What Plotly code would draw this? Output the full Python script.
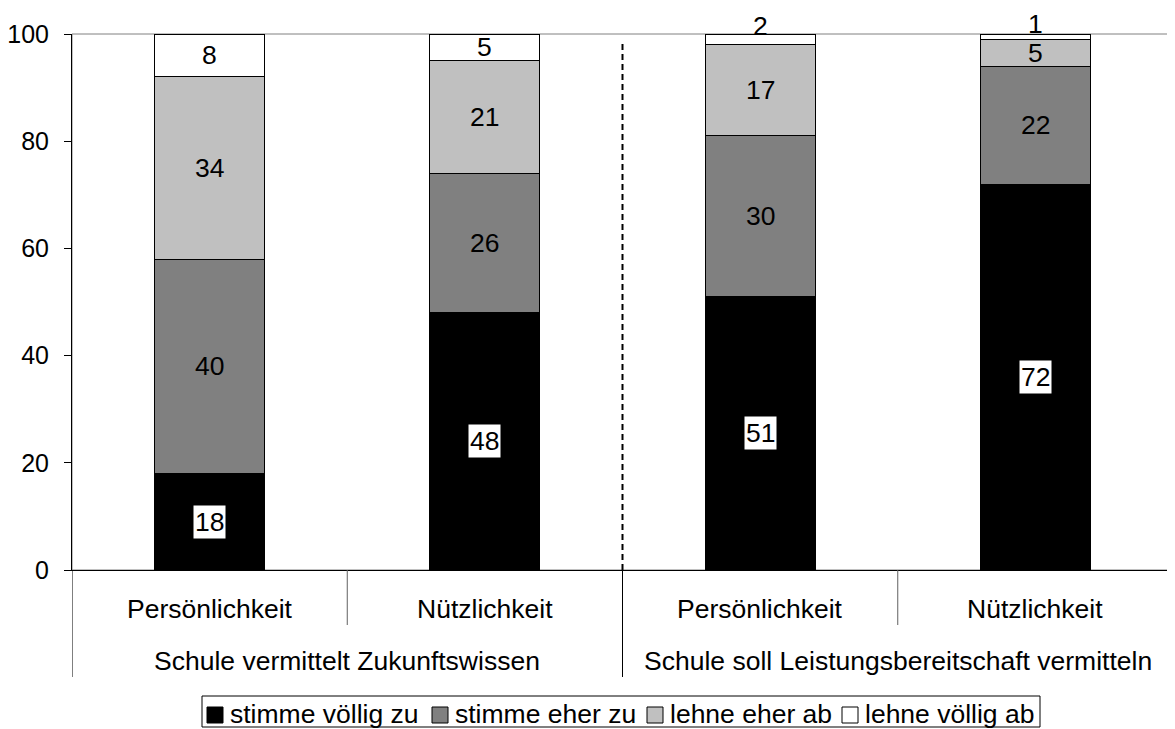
import plotly.graph_objects as go

# categories (inner level) and their groups (outer level)
INNER = ["Persönlichkeit", "Nützlichkeit", "Persönlichkeit", "Nützlichkeit"]
OUTER = ["Schule vermittelt Zukunftswissen", "Schule soll Leistungsbereitschaft vermitteln"]

SERIES = ["stimme völlig zu", "stimme eher zu", "lehne eher ab", "lehne völlig ab"]
voellig_zu = [18, 48, 51, 72]
eher_zu = [40, 26, 30, 22]
eher_ab = [34, 21, 17, 5]
voellig_ab = [8, 5, 2, 1]

Y_TICKS = [0, 20, 40, 60, 80, 100]

COLORS = ["#000000", "#808080", "#c0c0c0", "#ffffff"]
FONT = "Liberation Sans, Arial, sans-serif"
FS = 26.5

# page has an 8px body margin, so the figure is a bit smaller than the window
W, H, OFF = 1175, 729, 8
# plot area in window pixels (also used to place the hand-made legend)
PL, PR, PT, PB = 72, 1173, 34, 570


def px_x(p):
    return (p - PL) / (PR - PL)


def px_y(p):
    return (PB - p) / (PB - PT)


x = list(range(len(INNER)))
values = [voellig_zu, eher_zu, eher_ab, voellig_ab]

fig = go.Figure()
for name, vals, col in zip(SERIES, values, COLORS):
    fig.add_trace(go.Bar(
        x=x, y=vals, name=name, width=0.4,
        marker=dict(color=col, line=dict(color="black", width=1)),
        hoverinfo="name+y", showlegend=False
    ))

# segment labels
annotations = []
base = [0] * len(x)
for si, vals in enumerate(values):
    for i, v in enumerate(vals):
        mid = base[i] + v / 2
        ann = dict(x=x[i], y=mid, xref="x", yref="y", text=str(v), showarrow=False,
                   font=dict(family=FONT, size=FS, color="black"))
        if si == 0:
            ann.update(bgcolor="white", borderpad=1)
        if v < 3:
            ann.update(yshift=13)
        annotations.append(ann)
        base[i] += v

# category labels
for i, lab in enumerate(INNER):
    annotations.append(dict(x=x[i], y=px_y(609), xref="x", yref="paper", text=lab,
                            showarrow=False, yanchor="middle",
                            font=dict(family=FONT, size=FS, color="black")))
for g, lab in enumerate(OUTER):
    annotations.append(dict(x=2 * g + 0.5, y=px_y(661), xref="x", yref="paper", text=lab,
                            showarrow=False, yanchor="middle",
                            font=dict(family=FONT, size=FS, color="black")))

shapes = [
    # plot frame (top / right)
    dict(type="rect", xref="paper", yref="paper", x0=0, x1=1, y0=0, y1=1,
         line=dict(color="#808080", width=1), layer="below"),
    # separator between groups
    dict(type="line", xref="x", yref="y", x0=1.5, x1=1.5, y0=0, y1=98.5,
         line=dict(color="black", width=2, dash="6px,4px")),
]
for xb in [0.5, 2.5]:
    shapes.append(dict(type="line", xref="x", yref="paper", x0=xb, x1=xb, y0=0, y1=px_y(625),
                       line=dict(color="#606060", width=1)))
for xb in [-0.5, 1.5, 3.5]:
    shapes.append(dict(type="line", xref="x", yref="paper", x0=xb, x1=xb, y0=0, y1=px_y(677),
                       line=dict(color="black", width=1)))

# legend box
shapes.append(dict(type="rect", xref="paper", yref="paper",
                   x0=px_x(202), x1=px_x(1040), y0=px_y(727), y1=px_y(696),
                   line=dict(color="black", width=1), fillcolor="white"))
for name, col, sx in zip(SERIES, COLORS, [207, 432, 647, 842]):
    shapes.append(dict(type="rect", xref="paper", yref="paper",
                       x0=px_x(sx), x1=px_x(sx + 16), y0=px_y(723), y1=px_y(707),
                       line=dict(color="black", width=1), fillcolor=col))
    annotations.append(dict(x=px_x(sx + 21), y=px_y(714), xref="paper", yref="paper",
                            text=name, showarrow=False, xanchor="left", yanchor="middle",
                            font=dict(family=FONT, size=FS, color="black")))

fig.update_layout(
    barmode="stack",
    width=W - OFF, height=H - OFF,
    margin=dict(l=PL - OFF, r=W - PR, t=PT - OFF, b=H - PB),
    plot_bgcolor="white", paper_bgcolor="white",
    font=dict(family=FONT, size=FS, color="black"),
    annotations=annotations,
    shapes=shapes,
    showlegend=False,
)
fig.update_xaxes(range=[-0.5, 3.5], showticklabels=False, showgrid=False, zeroline=False,
                 showline=True, linecolor="black", linewidth=1, ticks="", automargin=False)
fig.update_yaxes(range=[0, 100], tickvals=Y_TICKS, showgrid=False, zeroline=False,
                 showline=True, linecolor="black", linewidth=1, automargin=False,
                 tickfont=dict(size=25),
                 ticks="outside", ticklen=7, tickcolor="black", ticklabelstandoff=10)

fig.write_html("out.html")
